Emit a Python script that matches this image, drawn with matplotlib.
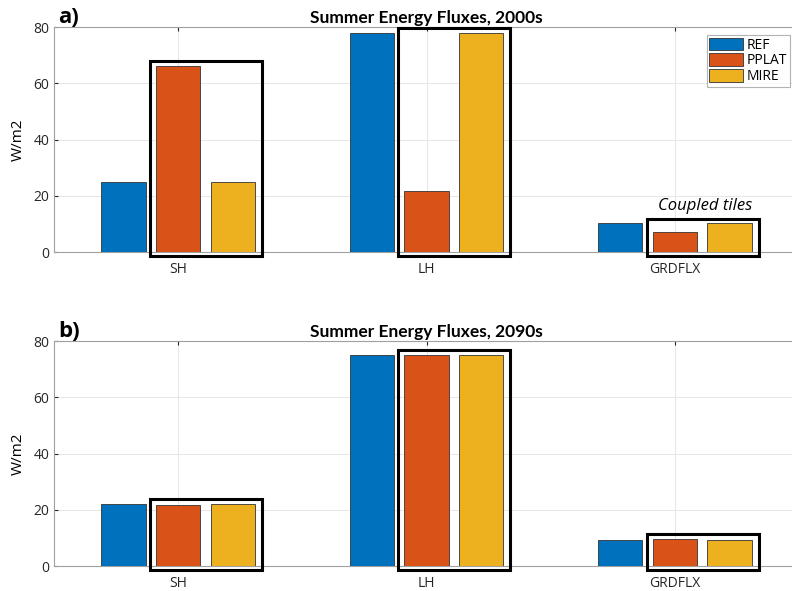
import matplotlib.pyplot as plt
from matplotlib.patches import Rectangle
import numpy as np

plt.rcParams['font.family'] = ['Open Sans', 'DejaVu Sans']

# Data
categories = ["SH", "LH", "GRDFLX"]
series = ["REF", "PPLAT", "MIRE"]
colors = ["#0072BD", "#D95319", "#EDB120"]

flux_2000s = {
    "REF":   [24.9, 77.9, 10.2],
    "PPLAT": [66.1, 21.8, 7.0],
    "MIRE":  [24.9, 77.9, 10.2],
}
flux_2090s = {
    "REF":   [22.0, 75.0, 9.2],
    "PPLAT": [21.8, 75.0, 9.6],
    "MIRE":  [22.0, 75.0, 9.2],
}
titles = ["Summer Energy Fluxes, 2000s", "Summer Energy Fluxes, 2090s"]
panel_labels = ["a)", "b)"]

x = np.arange(1, len(categories) + 1)
offsets = [-0.22, 0.0, 0.22]
width = 0.178

fig = plt.figure(figsize=(7.92, 5.91), dpi=100)
ax_top = fig.add_axes([0.0682, 0.5736, 0.9407, 0.3807])
ax_bot = fig.add_axes([0.0682, 0.0423, 0.9407, 0.3807])

for ax, data, title, lab in zip([ax_top, ax_bot], [flux_2000s, flux_2090s], titles, panel_labels):
    for name, off, c in zip(series, offsets, colors):
        ax.bar(x + off, data[name], width, color=c, edgecolor="#333333",
               linewidth=0.6, label=name, zorder=3)
    # boxes around the coupled tiles (PPLAT + MIRE)
    for i in range(len(categories)):
        top = max(data["PPLAT"][i], data["MIRE"][i]) + 1.7
        r = Rectangle((x[i] - 0.113, -1.4), 0.451, top + 1.4, fill=False,
                      edgecolor="black", linewidth=2.2, clip_on=False, zorder=4)
        ax.add_patch(r)
    ax.set_xlim(0.5, 3.5)
    ax.set_ylim(0, 80)
    ax.set_yticks([0, 20, 40, 60, 80])
    ax.set_xticks(x)
    ax.set_xticklabels(categories)
    ax.set_ylabel("W/m2", fontsize=11, labelpad=5)
    ax.grid(True, color="#e6e6e6", linewidth=0.7, zorder=0)
    ax.tick_params(direction="in", length=3, labelsize=10, colors="#262626",
                   top=True, right=True)
    ax.tick_params(axis="x", pad=7)
    for s in ax.spines.values():
        s.set_color("#a0a0a0")
        s.set_linewidth(0.8)
    ax.set_title(title, fontsize=12.5, fontweight="bold", pad=3,
                 family=["Lato", "DejaVu Sans"])
    ax.text(0.006, 0.995, lab, transform=ax.transAxes, fontsize=16,
            fontweight="bold", va="bottom", ha="left")

ax_top.text(3.12, 16.5, "Coupled tiles", fontsize=12, style="italic",
            ha="center", va="center")

leg = ax_top.legend(loc="upper right", bbox_to_anchor=(0.988, 0.965),
                    fontsize=10, frameon=True, fancybox=False,
                    handlelength=2.4, handleheight=1.0, handletextpad=0.3,
                    borderpad=0.2, labelspacing=0.05, borderaxespad=0)
leg.get_frame().set_edgecolor("#a0a0a0")
leg.get_frame().set_linewidth(0.8)

fig.savefig("out.png", dpi=100)
